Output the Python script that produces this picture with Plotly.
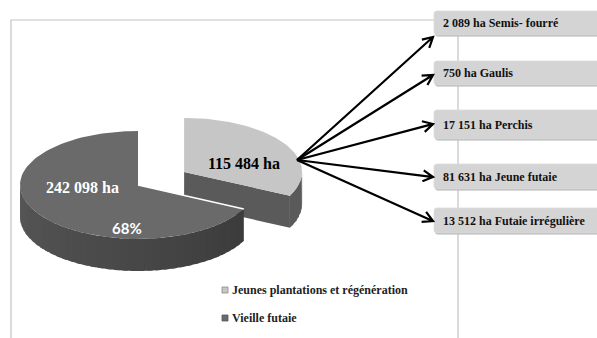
import numpy as np
import plotly.graph_objects as go

# Surface totals (ha)
main_labels = ["Jeunes plantations et régénération", "Vieille futaie"]
main_values = [115484, 242098]

# Breakdown of the young stands (ha)
sub_labels = ["Semis- fourré", "Gaulis", "Perchis", "Jeune futaie", "Futaie irrégulière"]
sub_values = [2089, 750, 17151, 81631, 13512]


def fr(n):
    return f"{n:,}".replace(",", " ")


W, H = 597, 338
CX, CY = 138, 185          # centre of the pie top
RX, RY = 118, 54           # ellipse radii (tilted pie)
DEPTH = 32                 # thickness of the pie
PULL = 0.46                # explode fraction for the first slice

TOP_COLORS = ["#c6c6c6", "#6a6a6a"]
SIDE_COLORS = ["#5a5a5a", "#484848"]

SERIF = "Liberation Serif"

total = sum(main_values)
fracs = [v / total for v in main_values]
bounds = np.concatenate([[0], np.cumsum(fracs) * 360])


def rim(cx, cy, th, dy=0.0):
    t = np.radians(th)
    return cx + RX * np.sin(t), cy - RY * np.cos(t) + dy


fig = go.Figure()


def add_poly(xs, ys, color, line_color=None, lw=0):
    fig.add_trace(go.Scatter(
        x=list(xs), y=list(ys), mode="lines", fill="toself",
        fillcolor=color, line=dict(color=line_color or color, width=lw),
        hoverinfo="skip", showlegend=False))


def draw_slice(i):
    th0, th1 = bounds[i], bounds[i + 1]
    cx, cy = CX, CY
    if i == 0:
        mid = np.radians((th0 + th1) / 2)
        cx += PULL * RX * np.sin(mid)
        cy -= PULL * RY * np.cos(mid)
    # cut face at the end angle (faces the viewer for the first slice)
    if i == 0:
        ex, ey = rim(cx, cy, th1)
        add_poly([cx, ex, ex, cx, cx], [cy, ey, ey + DEPTH, cy + DEPTH, cy], SIDE_COLORS[i])
    # outer wall, front half only (shaded strips that overlap to hide seams)
    a0, a1 = max(th0, 90), min(th1, 270)
    if a1 > a0:
        n = max(2, int((a1 - a0) / 4))
        edges = np.linspace(a0, a1, n + 1)
        for k in range(n):
            hi = min(a1, edges[k + 1] + 2.5)
            th = np.linspace(edges[k], hi, 8)
            xt, yt = rim(cx, cy, th)
            xb, yb = rim(cx, cy, th[::-1], DEPTH)
            if i == 1:
                s = (edges[k] - a0) / (a1 - a0)
                g = int(0x3c + s * (0x58 - 0x3c))
                col = f"rgb({g},{g},{g})"
            else:
                col = SIDE_COLORS[i]
            add_poly(np.r_[xt, xb, xt[0]], np.r_[yt, yb, yt[0]], col)
    # top face
    th = np.linspace(th0, th1, 120)
    xs, ys = rim(cx, cy, th)
    add_poly(np.r_[cx, xs, cx], np.r_[cy, ys, cy], TOP_COLORS[i])
    if i == 1:
        # light edge along the cut, separating it from the pulled-out slice
        ex, ey = rim(cx, cy, th0)
        fig.add_trace(go.Scatter(x=[cx, ex], y=[cy, ey], mode="lines",
                                 line=dict(color="white", width=1.5),
                                 hoverinfo="skip", showlegend=False))
    return cx, cy


draw_slice(0)
draw_slice(1)

annotations = []
shapes = []

# chart frame
shapes.append(dict(type="rect", xref="x", yref="y", x0=11, y0=20, x1=458, y1=350,
                   line=dict(color="#c4c4c4", width=1.2), fillcolor="rgba(0,0,0,0)", layer="below"))

# slice labels
annotations.append(dict(x=82, y=187, text=f"<b>{fr(main_values[1])} ha</b>", showarrow=False,
                        font=dict(family=SERIF, size=16, color="white")))
annotations.append(dict(x=127, y=228, text=f"<b>{round(100 * fracs[1])}%</b>", showarrow=False,
                        font=dict(family="Lato", size=15, color="white")))
annotations.append(dict(x=244, y=163, text=f"<b>{fr(main_values[0])} ha</b>", showarrow=False,
                        font=dict(family=SERIF, size=16, color="black")))

# detail boxes and arrows
box_tops = [11, 61, 110, 164, 208]
box_bots = [35, 85, 139, 189, 233]
tips_y = [37, 75, 124, 177, 221]
ox, oy = 297, 160
tip_x = 433
for lab, val, y0, y1, ty in zip(sub_labels, sub_values, box_tops, box_bots, tips_y):
    r = 3
    x0, x1 = 434, 603

    def rrect(a0, b0, a1, b1):
        return (f"M{a0 + r},{b0} L{a1 - r},{b0} Q{a1},{b0} {a1},{b0 + r} L{a1},{b1 - r} "
                f"Q{a1},{b1} {a1 - r},{b1} L{a0 + r},{b1} Q{a0},{b1} {a0},{b1 - r} "
                f"L{a0},{b0 + r} Q{a0},{b0} {a0 + r},{b0} Z")

    shapes.append(dict(type="path", xref="x", yref="y", path=rrect(x0 + 1, y0 + 1.5, x1 + 1, y1 + 1.5),
                       fillcolor="#b5b5b5", line=dict(width=0)))
    shapes.append(dict(type="path", xref="x", yref="y", path=rrect(x0, y0, x1, y1),
                       fillcolor="#d4d4d4", line=dict(color="#dcdcdc", width=0.8)))
    annotations.append(dict(x=441, y=(y0 + y1) / 2, xanchor="left", yanchor="middle",
                            text=f"<b>{fr(val)} ha {lab}</b>", showarrow=False,
                            font=dict(family=SERIF, size=12, color="#111111")))
    # arrow shaft + open chevron head
    dx, dy = tip_x - ox, ty - oy
    L = np.hypot(dx, dy)
    ux, uy = dx / L, dy / L
    nx, ny = -uy, ux
    hl, hw = 10, 5.5
    p1 = (tip_x - hl * ux + hw * nx, ty - hl * uy + hw * ny)
    p2 = (tip_x - hl * ux - hw * nx, ty - hl * uy - hw * ny)
    shapes.append(dict(type="path", xref="x", yref="y",
                       path=f"M{ox},{oy} L{tip_x - 1.5 * ux},{ty - 1.5 * uy} "
                            f"M{p1[0]},{p1[1]} L{tip_x},{ty} L{p2[0]},{p2[1]}",
                       line=dict(color="black", width=2.2)))

# legend
leg_y = [290, 318]
for lab, col, edge, y in zip(main_labels, TOP_COLORS, ["#8a8a8a", "#555555"], leg_y):
    shapes.append(dict(type="rect", xref="x", yref="y", x0=222, x1=228, y0=y - 3, y1=y + 3,
                       fillcolor=col, line=dict(color=edge, width=0.8)))
    annotations.append(dict(x=230, y=y, xanchor="left", yanchor="middle", text=f"<b>{lab}</b>",
                            showarrow=False, font=dict(family=SERIF, size=12, color="#222222")))

fig.update_layout(
    width=W, height=H, margin=dict(l=0, r=0, t=0, b=0),
    paper_bgcolor="white", plot_bgcolor="white", showlegend=False,
    xaxis=dict(range=[0, W], visible=False, fixedrange=True),
    yaxis=dict(range=[H, 0], visible=False, fixedrange=True),
    shapes=shapes, annotations=annotations,
)

fig.write_html("out.html")
